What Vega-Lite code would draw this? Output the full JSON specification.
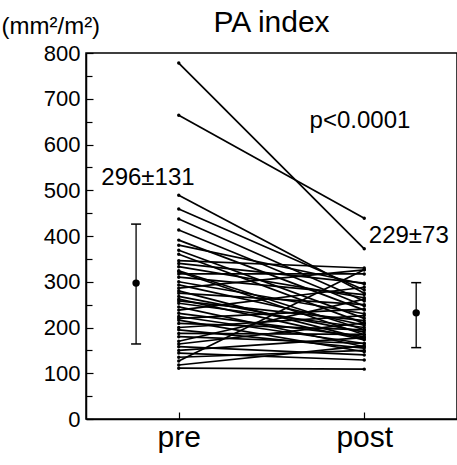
{
  "$schema": "https://vega.github.io/schema/vega-lite/v6.json",
  "autosize": "none",
  "width": 371,
  "height": 366,
  "padding": {"left": 86, "top": 53, "right": 0, "bottom": 46},
  "background": "white",
  "config": {
    "view": {"stroke": "black", "strokeWidth": 1.5},
    "font": "Liberation Sans",
    "axis": {"grid": false, "domainColor": "black", "tickColor": "black", "labelColor": "black", "titleColor": "black", "labelFont": "Liberation Sans", "titleFont": "Liberation Sans"}
  },
  "title": {"text": "PA index", "fontSize": 30, "fontWeight": "normal", "font": "Liberation Sans", "color": "black", "anchor": "middle", "baseline": "alphabetic", "offset": -48},
  "datasets": {
    "patients": [
      {"id": 1, "pre": 778, "post": 372}, {"id": 2, "pre": 664, "post": 439},
      {"id": 3, "pre": 489, "post": 275}, {"id": 4, "pre": 459, "post": 282},
      {"id": 5, "pre": 437, "post": 258}, {"id": 6, "pre": 413, "post": 247},
      {"id": 7, "pre": 391, "post": 238}, {"id": 8, "pre": 380, "post": 295},
      {"id": 9, "pre": 369, "post": 220}, {"id": 10, "pre": 360, "post": 209},
      {"id": 11, "pre": 346, "post": 330}, {"id": 12, "pre": 340, "post": 297},
      {"id": 13, "pre": 333, "post": 265}, {"id": 14, "pre": 324, "post": 195},
      {"id": 15, "pre": 322, "post": 184}, {"id": 16, "pre": 317, "post": 317},
      {"id": 17, "pre": 310, "post": 272}, {"id": 18, "pre": 300, "post": 230},
      {"id": 19, "pre": 293, "post": 205}, {"id": 20, "pre": 286, "post": 326},
      {"id": 21, "pre": 280, "post": 175}, {"id": 22, "pre": 275, "post": 250},
      {"id": 23, "pre": 268, "post": 190}, {"id": 24, "pre": 262, "post": 173},
      {"id": 25, "pre": 258, "post": 215}, {"id": 26, "pre": 253, "post": 200},
      {"id": 27, "pre": 245, "post": 158}, {"id": 28, "pre": 238, "post": 288},
      {"id": 29, "pre": 231, "post": 180}, {"id": 30, "pre": 224, "post": 165},
      {"id": 31, "pre": 220, "post": 240}, {"id": 32, "pre": 216, "post": 147},
      {"id": 33, "pre": 209, "post": 195}, {"id": 34, "pre": 200, "post": 226},
      {"id": 35, "pre": 195, "post": 155}, {"id": 36, "pre": 187, "post": 185},
      {"id": 37, "pre": 180, "post": 165}, {"id": 38, "pre": 170, "post": 262},
      {"id": 39, "pre": 164, "post": 210}, {"id": 40, "pre": 158, "post": 140},
      {"id": 41, "pre": 150, "post": 178}, {"id": 42, "pre": 144, "post": 129},
      {"id": 43, "pre": 135, "post": 150}, {"id": 44, "pre": 127, "post": 326},
      {"id": 45, "pre": 118, "post": 160}, {"id": 46, "pre": 111, "post": 109}
    ],
    "summary": [
      {"pos": 0.77, "mean": 297, "lo": 164, "hi": 426},
      {"pos": 2.28, "mean": 232, "lo": 156, "hi": 298}
    ],
    "labels": [
      {"pos": 0.834, "val": 511, "text": "296±131"},
      {"pos": 1.977, "val": 636, "text": "p<0.0001"},
      {"pos": 2.24, "val": 385, "text": "229±73"}
    ]
  },
  "layer": [
    {
      "data": {"name": "patients"},
      "transform": [
        {"fold": ["pre", "post"], "as": ["phase", "value"]},
        {"lookup": "phase", "from": {"data": {"values": [{"phase": "pre", "t": 1}, {"phase": "post", "t": 2}]}, "key": "phase", "fields": ["t"]}}
      ],
      "layer": [
        {
          "mark": {"type": "line", "color": "black", "strokeWidth": 1.7},
          "encoding": {
            "x": {"field": "t", "type": "quantitative", "scale": {"domain": [0.5, 2.5], "nice": false, "zero": false},
              "axis": {"values": [1, 2], "labelExpr": "datum.value == 1 ? 'pre' : 'post'", "title": null, "tickSize": -7, "labelFontSize": 30, "labelPadding": 10, "domainWidth": 1.5, "tickWidth": 1.2}},
            "y": {"field": "value", "type": "quantitative", "scale": {"domain": [0, 800], "nice": false},
              "axis": {"values": [0, 100, 200, 300, 400, 500, 600, 700, 800], "tickSize": -7, "labelFontSize": 22, "labelPadding": 13, "domainWidth": 1.5, "tickWidth": 1.2,
                "title": "(mm²/m²)", "titleAngle": 0, "titleFontSize": 24, "titleFontWeight": "normal", "titleX": -85, "titleY": -20, "titleAlign": "left", "titleBaseline": "alphabetic"}},
            "detail": {"field": "id"}
          }
        },
        {
          "mark": {"type": "circle", "color": "black", "opacity": 1, "size": 12},
          "encoding": {
            "x": {"field": "t", "type": "quantitative"},
            "y": {"field": "value", "type": "quantitative"}
          }
        }
      ]
    },
    {
      "data": {"values": [{"v": 50}, {"v": 150}, {"v": 250}, {"v": 350}, {"v": 450}, {"v": 550}, {"v": 650}, {"v": 750}]},
      "mark": {"type": "circle", "opacity": 0},
      "encoding": {
        "y": {"field": "v", "type": "quantitative",
          "axis": {"orient": "left", "values": [50, 150, 250, 350, 450, 550, 650, 750], "labels": false, "domain": false, "tickSize": -6, "tickWidth": 1.2, "title": null}}
      }
    },
    {
      "data": {"name": "summary"},
      "layer": [
        {"mark": {"type": "rule", "color": "black", "strokeWidth": 1.3},
          "encoding": {"x": {"field": "pos", "type": "quantitative"}, "y": {"field": "lo", "type": "quantitative", "axis": null}, "y2": {"field": "hi"}}},
        {"mark": {"type": "tick", "orient": "horizontal", "color": "black", "size": 10, "thickness": 1.5, "opacity": 1},
          "encoding": {"x": {"field": "pos", "type": "quantitative"}, "y": {"field": "lo", "type": "quantitative", "axis": null}}},
        {"mark": {"type": "tick", "orient": "horizontal", "color": "black", "size": 10, "thickness": 1.5, "opacity": 1},
          "encoding": {"x": {"field": "pos", "type": "quantitative"}, "y": {"field": "hi", "type": "quantitative", "axis": null}}},
        {"mark": {"type": "circle", "color": "black", "opacity": 1, "size": 55},
          "encoding": {"x": {"field": "pos", "type": "quantitative"}, "y": {"field": "mean", "type": "quantitative", "axis": null}}}
      ]
    },
    {
      "data": {"name": "labels"},
      "mark": {"type": "text", "fontSize": 24, "color": "black", "baseline": "alphabetic", "align": "center"},
      "encoding": {
        "x": {"field": "pos", "type": "quantitative"},
        "y": {"field": "val", "type": "quantitative", "axis": null},
        "text": {"field": "text"}
      }
    }
  ],
  "resolve": {"axis": {"y": "independent"}}
}
